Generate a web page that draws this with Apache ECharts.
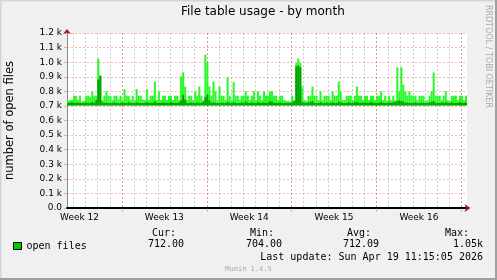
<!DOCTYPE html>
<html><head><meta charset="utf-8">
<script src="https://cdn.jsdelivr.net/npm/echarts@6/dist/echarts.min.js"></script>
<style>html,body{margin:0;padding:0;background:#f0f0f0;}#c{width:497px;height:280px;}</style>
</head><body><div id="c"></div>
<script>
// ---- data (4-hour buckets, 33 days ending Sun Apr 19 11:15:05 2026) ----
const maxOpenFiles = [
  735,740,740,770,770,740,770,730,735,770,
  770,760,800,770,770,1025,910,740,770,800,
  770,770,740,770,770,745,770,740,815,770,
  770,740,770,740,815,770,770,745,740,815,
  740,770,770,866,740,800,740,770,770,740,
  770,770,740,770,770,740,902,930,833,740,
  770,770,740,800,770,833,770,740,1052,999,
  833,770,868,800,740,833,770,770,740,896,
  770,740,863,770,770,740,770,770,800,770,
  740,770,800,740,800,770,740,800,770,770,
  800,800,770,770,740,770,770,740,735,735,
  730,770,740,995,1024,995,833,740,735,770,
  770,833,770,770,740,800,740,770,770,770,
  740,800,770,770,866,800,740,740,770,770,
  770,740,770,833,770,770,740,770,770,740,
  770,770,740,770,770,800,740,770,735,770,
  740,770,740,965,800,965,845,800,770,800,
  770,770,770,740,770,770,770,735,740,770,
  800,930,770,770,770,740,770,800,740,735,
  770,770,770,740,770,770,740,770
];
const avgOpenFiles = [
  720,720,726,720,720,722,720,720,720,724,
  720,720,728,720,740,880,905,726,720,724,
  720,720,720,726,720,720,720,724,720,720,
  726,720,720,720,724,720,720,720,720,726,
  720,720,720,730,720,720,720,724,720,720,
  720,726,720,720,720,724,738,776,742,720,
  720,724,720,720,726,720,720,728,760,778,
  738,720,726,720,720,720,724,720,720,728,
  720,720,726,720,720,720,724,720,730,720,
  720,724,720,720,726,720,720,724,720,720,
  732,728,720,720,720,724,720,720,720,720,
  720,724,734,971,976,965,726,720,720,724,
  728,734,720,720,720,726,720,720,724,720,
  720,726,720,720,729,724,720,720,720,726,
  720,720,724,728,720,720,720,724,720,720,
  726,720,720,720,720,728,720,720,720,724,
  720,726,728,734,738,734,730,720,724,720,
  720,720,726,720,720,724,720,720,720,724,
  728,732,720,720,720,724,720,726,720,720,
  724,720,720,720,726,720,720,724
];
const MIN_OPEN_FILES = 703;
const weekLabels = ['Week 12','Week 13','Week 14','Week 15','Week 16'];
const yTickLabels = ['0.0','0.1 k','0.2 k','0.3 k','0.4 k','0.5 k','0.6 k','0.7 k','0.8 k','0.9 k','1.0 k','1.1 k','1.2 k'];
const statHeaders = ['Cur:','Min:','Avg:','Max:'];
const statValues = ['712.00','704.00','712.09','1.05k'];
const lastUpdate = 'Last update: Sun Apr 19 11:15:05 2026';
const chartTitle = 'File table usage - by month';
const yName = 'number of open files';
const seriesName = 'open files';

// time structure: hours since graph start (Tue Mar 17 11:15:05)
const SPAN_HOURS = 792, STEP_HOURS = 4;
const FIRST_MIDNIGHT = 12.75;
const weekStartHours = [108.75, 276.75, 444.75, 612.75, 780.75];  // Sundays 00:00
const weekLabelHours = [24.75, 192.75, 360.75, 528.75, 696.75];   // label centres
const dayGridHours = [];
for (let h = FIRST_MIDNIGHT; h < SPAN_HOURS; h += 24) dayGridHours.push(h);
const categories = maxOpenFiles.map((_, i) => String(i * STEP_HOURS));

const SANS = "'DejaVu Sans', sans-serif";
const MONO = "'DejaVu Sans Mono', monospace";
const RED_GRID = 'rgba(235,60,60,0.38)';
const GRAY_GRID = 'rgba(130,130,130,0.4)';
const ARROW = '#9b1c1c';

const chart = echarts.init(document.getElementById('c'), null, {renderer: 'canvas'});

const statHeaderX = [176, 274, 371, 469];
const statValueX = [184, 282, 379, 483];
const graphics = [];
statHeaders.forEach((t, i) => graphics.push({type:'text', x: statHeaderX[i], y: 233, style:{text:t, font:'10px ' + MONO, fill:'#000', align:'right', verticalAlign:'middle', textAlign:'right', textVerticalAlign:'middle'}}));
statValues.forEach((t, i) => graphics.push({type:'text', x: statValueX[i], y: 244.5, style:{text:t, font:'10px ' + MONO, fill:'#000', align:'right', verticalAlign:'middle', textAlign:'right', textVerticalAlign:'middle'}}));
graphics.push({type:'text', x: 483, y: 257, style:{text:lastUpdate, font:'10px ' + MONO, fill:'#000', align:'right', verticalAlign:'middle', textAlign:'right', textVerticalAlign:'middle'}});
graphics.push({type:'text', x: 248.5, y: 269.5, style:{text:'Munin 1.4.5', font:'7px ' + MONO, fill:'#a8a8a8', align:'center', verticalAlign:'middle', textAlign:'center', textVerticalAlign:'middle'}});
graphics.push({type:'text', x: 488, y: 5, rotation: -Math.PI / 2, style:{text:'RRDTOOL / TOBI OETIKER', font:'8px ' + SANS, fill:'#a8a8a8', align:'left', verticalAlign:'middle', textAlign:'left', textVerticalAlign:'middle'}});
// frame
graphics.push({type:'rect', shape:{x:0, y:0, width:497, height:1.5}, style:{fill:'#d4d4d4'}, silent:true});
graphics.push({type:'rect', shape:{x:0, y:0, width:1.5, height:280}, style:{fill:'#d4d4d4'}, silent:true});
graphics.push({type:'rect', shape:{x:0, y:278, width:497, height:2}, style:{fill:'#a0a0a0'}, silent:true});
graphics.push({type:'rect', shape:{x:495, y:0, width:2, height:280}, style:{fill:'#a0a0a0'}, silent:true});

const nearestIdx = (arr, v) => { let b = 0; arr.forEach((a, i) => { if (Math.abs(a - v) < Math.abs(arr[b] - v)) b = i; }); return b; };

chart.setOption({
  animation: false,
  backgroundColor: '#f0f0f0',
  title: {text: chartTitle, left: 181, top: 6, padding: 0,
    textStyle: {fontFamily: SANS, fontSize: 12, fontWeight: 'normal', color: '#000'}},
  legend: {data: [{name: seriesName, icon: 'rect', itemStyle: {color: '#00cc00', borderColor: '#000', borderWidth: 1}}],
    left: 13, top: 241, itemWidth: 8, itemHeight: 7, padding: 0, selectedMode: false,
    textStyle: {fontFamily: MONO, fontSize: 10, color: '#000'}},
  grid: {left: 67, right: 30, top: 33, bottom: 72, show: true, backgroundColor: '#fff', borderWidth: 0, containLabel: false, outerBoundsMode: 'none'},
  xAxis: [
    {type: 'category', data: categories, position: 'bottom', boundaryGap: true,
      axisLine: {show: true, onZero: false, lineStyle: {color: '#000', width: 2}},
      axisTick: {show: false}, axisLabel: {show: false}, splitLine: {show: false}},
    {type: 'value', position: 'bottom', min: 0, max: SPAN_HOURS,
      axisLine: {show: false}, axisTick: {show: false, customValues: dayGridHours},
      axisLabel: {show: false}, splitLine: {show: true, lineStyle: {color: GRAY_GRID, width: 1, type: [2, 2]}}},
    {type: 'value', position: 'bottom', min: 0, max: SPAN_HOURS,
      axisLine: {show: true, onZero: false, symbol: ['none', 'arrow'], symbolSize: [6, 6], symbolOffset: [0, 3.5],
        lineStyle: {color: ARROW, width: 0}},
      axisTick: {show: true, customValues: weekStartHours, length: 4, lineStyle: {color: RED_GRID, width: 1}},
      axisLabel: {show: true, customValues: weekLabelHours, margin: 5, fontFamily: SANS, fontSize: 9, color: '#000',
        formatter: v => weekLabels[nearestIdx(weekLabelHours, v)]},
      splitLine: {show: true, lineStyle: {color: RED_GRID, width: 1, type: [2, 2]}}}
  ],
  yAxis: [
    {type: 'value', min: 0, max: 1200, interval: 100, position: 'left',
      name: yName, nameLocation: 'middle', nameRotate: 90, nameGap: 51,
      nameTextStyle: {fontFamily: SANS, fontSize: 11.5, color: '#000'},
      axisLine: {show: true, onZero: false, lineStyle: {color: '#8a8a8a', width: 1}},
      axisTick: {show: true, length: 3, lineStyle: {color: RED_GRID}},
      axisLabel: {margin: 5, fontFamily: SANS, fontSize: 9, color: '#000',
        formatter: v => yTickLabels[Math.round(v / 100)]},
      splitLine: {show: true, lineStyle: {color: RED_GRID, width: 1, type: [2, 2]}}},
    {type: 'value', min: 0, max: 1200, interval: 100, position: 'left',
      axisLine: {show: true, onZero: false, symbol: ['none', 'arrow'], symbolSize: [6, 5], symbolOffset: [0, 4],
        lineStyle: {color: ARROW, width: 0}},
      axisTick: {show: false}, axisLabel: {show: false}, splitLine: {show: false}}
  ],
  series: [
    {type: 'bar', name: 'floor-max', stack: 'max', xAxisIndex: 0, yAxisIndex: 0, silent: true,
      barCategoryGap: '0%', barGap: '-100%',
      data: maxOpenFiles.map(() => MIN_OPEN_FILES), itemStyle: {color: 'rgba(0,0,0,0)'}},
    {type: 'bar', name: seriesName, stack: 'max', xAxisIndex: 0, yAxisIndex: 0,
      barCategoryGap: '0%', barGap: '-100%',
      data: maxOpenFiles.map(v => v - MIN_OPEN_FILES), itemStyle: {color: '#26fa26'}},
    {type: 'bar', name: 'floor-avg', stack: 'avg', xAxisIndex: 0, yAxisIndex: 0, silent: true,
      barCategoryGap: '0%', barGap: '-100%',
      data: avgOpenFiles.map(() => MIN_OPEN_FILES), itemStyle: {color: 'rgba(0,0,0,0)'}},
    {type: 'bar', name: 'avg', stack: 'avg', xAxisIndex: 0, yAxisIndex: 0,
      barCategoryGap: '0%', barGap: '-100%',
      data: avgOpenFiles.map(v => v - MIN_OPEN_FILES), itemStyle: {color: '#00a000'}}
  ],
  graphic: graphics
});
</script></body></html>
